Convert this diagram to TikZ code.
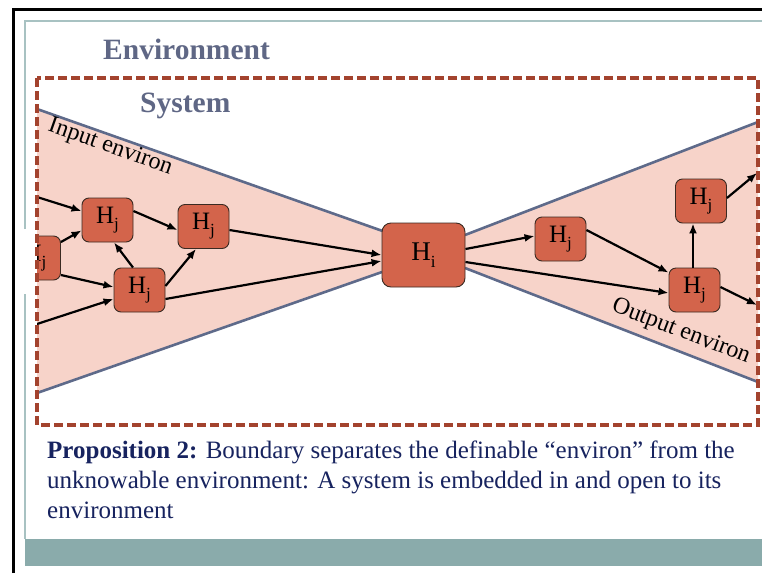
\documentclass[tikz,border=0pt]{standalone}
\usepackage{fontspec}
\setmainfont{Liberation Serif}
\usetikzlibrary{arrows.meta,calc}
\definecolor{titlec}{HTML}{5F6785}
\definecolor{textc}{HTML}{17235F}
\definecolor{dashc}{HTML}{A3432E}
\definecolor{funfill}{HTML}{F7D3C9}
\definecolor{funedgec}{HTML}{5E6A8A}
\definecolor{boxfill}{HTML}{D3644B}
\definecolor{boxline}{HTML}{3A2A22}
\definecolor{innerc}{HTML}{A8C2C2}
\definecolor{bandc}{HTML}{8AABAB}
\newcommand{\Hsub}[1]{H\raisebox{-0.24em}{\fontsize{17}{17}\selectfont #1}}
\tikzset{
  hbox/.style={draw=boxline, fill=boxfill, rounded corners=7pt, minimum width=51pt,
    minimum height=44pt, inner sep=0pt, line width=0.9pt, font=\fontsize{25}{25}\selectfont},
  hibox/.style={hbox, minimum width=83pt, minimum height=64pt, rounded corners=9pt,
    font=\fontsize{27}{27}\selectfont},
  flow/.style={-{Latex[length=10pt,width=8pt]}, line width=2.2pt, black},
  funedge/.style={draw=funedgec, line width=2.6pt},
  dashbox/.style={draw=dashc, line width=3.2pt, dash pattern=on 9pt off 4pt},
  title/.style={anchor=base west, inner sep=0pt, text=titlec, font=\bfseries\fontsize{29.5}{30}\selectfont},
  proptext/.style={anchor=base west, inner sep=0pt, text=textc, font=\fontsize{25}{30}\selectfont},
  envlabel/.style={anchor=base, inner sep=0pt, font=\fontsize{24}{24}\selectfont}
}
\begin{document}
\begin{tikzpicture}[x=1pt,y=-1pt]
\useasboundingbox (0,0) rectangle (762,573);
\fill[white] (0,0) rectangle (762,573);
% slide frame
\fill[bandc] (25,539) rectangle (762,566);
\draw[innerc, line width=1.2pt] (25,229) -- (25,21) -- (762,21);
\draw[innerc, line width=1.2pt] (25,294) -- (25,539);
\draw[black, line width=3pt] (13,573) -- (13,9) -- (762,9);
% titles
\node[title] (envlbl) at (103,59) {Environment};
\node[title] (syslbl) at (140,112) {System};
\begin{scope}
\clip (37,78) rectangle (758,425);
\fill[funfill] (37,109) -- (382,230.8) -- (382,272) -- (37,393) -- cycle;
\fill[funfill] (465,235) -- (758,122) -- (758,382) -- (465,268) -- cycle;
\draw[funedge] (37,109) -- (382,230.8);
\draw[funedge] (37,393) -- (382,272);
\draw[funedge] (465,235) -- (758,122);
\draw[funedge] (465,268) -- (758,382);
% nodes
\node[hbox] (A) at (107.5,220) {\Hsub{j}};
\node[hbox] (B) at (203.5,226.5) {\Hsub{j}};
\node[hbox] (C) at (139.5,290) {\Hsub{j}};
\node[hbox] (D) at (35,258) {\Hsub{j}};
\node[hibox] (Hi) at (423.5,255) {\Hsub{i}};
\node[hbox] (E) at (560.5,239) {\Hsub{j}};
\node[hbox] (F) at (694.5,290) {\Hsub{j}};
\node[hbox] (G) at (701,201) {\Hsub{j}};
\coordinate (in1) at (37,197);
\coordinate (in2) at (37,324);
\coordinate (out1) at (757,173);
\coordinate (out2) at (757,305);
% connectors
\draw[flow] (in1) -- ($(A.west)+(0,-9)$);
\draw[flow] ($(D.east)+(0,-16)$) -- ($(A.south west)+(0,-12)$);
\draw[flow] ($(D.east)+(0,17)$) -- ($(C.west)+(0,-3)$);
\draw[flow] (in2) -- ($(C.west)+(0,9)$);
\draw[flow] ($(A.east)+(0,-9)$) -- ($(B.west)+(0,3.5)$);
\draw[flow] ($(C.north)+(-6.5,0)$) -- ($(A.south)+(6.5,0)$);
\draw[flow] ($(C.east)+(0,-4)$) -- ($(B.south)+(-7.5,0)$);
\draw[flow] ($(B.east)+(0,3.5)$) -- (Hi.west);
\draw[flow] ($(C.east)+(0,9)$) -- ($(Hi.west)+(0,6)$);
\draw[flow] ($(Hi.east)+(0,-6)$) -- ($(E.west)+(0,-3)$);
\draw[flow] ($(Hi.east)+(0,7)$) -- ($(F.west)+(0,3)$);
\draw[flow] ($(E.east)+(0,-9)$) -- ($(F.north west)+(0,5)$);
\draw[flow] ($(F.north)+(-1.5,0)$) -- ($(F.north |- G.south)+(-1.5,0)$);
\draw[flow] ($(G.east)+(0,-3)$) -- (out1);
\draw[flow] ($(F.east)+(0,-3)$) -- (out2);
% environ labels
\node[envlabel, rotate=-19.4] (inlbl) at (108.5,152.5) {Input environ};
\node[envlabel, rotate=-21] (outlbl) at (679,337) {Output environ};
\end{scope}
\draw[dashbox] (37,78) rectangle (758,425);
% proposition
\node[proptext] (p1) at (47,458) {\textbf{Proposition 2:} Boundary separates the definable “environ” from the};
\node[proptext] (p2) at (47,488) {unknowable environment: A system is embedded in and open to its};
\node[proptext] (p3) at (47,518) {environment};
\end{tikzpicture}
\end{document}
